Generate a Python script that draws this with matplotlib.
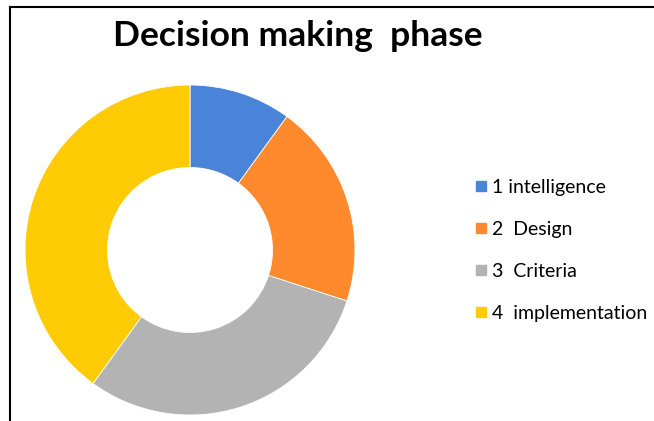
import matplotlib.pyplot as plt
from matplotlib.lines import Line2D

# Chart data
labels = ['1 intelligence', '2  Design', '3  Criteria', '4  implementation']
values = [1, 2, 3, 4]
colors = ['#4A84D8', '#FF8A2E', '#B3B3B3', '#FFCB05']

W, H = 654, 421
fig = plt.figure(figsize=(W / 100, H / 100), dpi=100)

# pie centered at (190, 250) px, outer radius 165 px
cx, cy, r = 190, 250, 165
ax = fig.add_axes([(cx - r) / W, (H - cy - r) / H, 2 * r / W, 2 * r / H])
ax.pie(values, colors=colors, startangle=90, counterclock=False, radius=1,
       wedgeprops=dict(width=0.5, edgecolor='white', linewidth=0.6))
ax.set_xlim(-1, 1)
ax.set_ylim(-1, 1)
ax.axis('off')

fig.text(298 / W, 1 - 36 / H, 'Decision making  phase', ha='center', va='center',
         fontsize=25.5, fontweight='bold', family='Lato')

handles = [Line2D([], [], marker='s', linestyle='none', markersize=7,
                  markerfacecolor=c, markeredgecolor=c) for c in colors]
fig.legend(handles, labels, loc='upper left', bbox_to_anchor=(474 / W, 1 - 179 / H),
           frameon=False, handlelength=0.7, handletextpad=0.25, labelspacing=1.28,
           prop=dict(family='Lato', size=14), borderaxespad=0, borderpad=0)

# frame lines at the top and left of the screenshot
fig.add_artist(Line2D([10 / W, 1], [1 - 7 / H, 1 - 7 / H], color='black', lw=1.5))
fig.add_artist(Line2D([10 / W, 10 / W], [0, 1 - 7 / H], color='black', lw=1.5))

fig.savefig('out.png', dpi=100)
